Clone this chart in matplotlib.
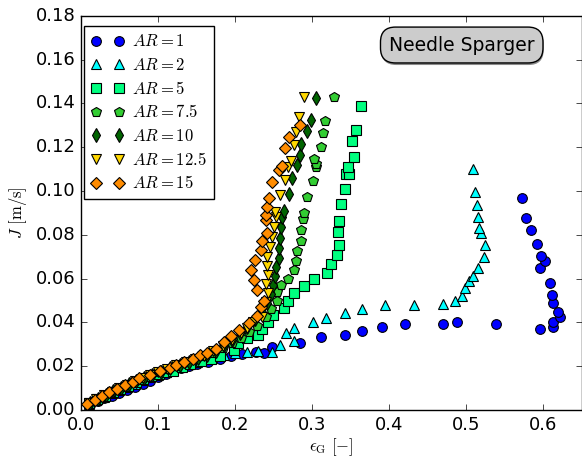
import matplotlib
matplotlib.use("Agg")
import matplotlib.pyplot as plt
from matplotlib.patheffects import withSimplePatchShadow

plt.style.use("classic")
plt.rcParams["figure.facecolor"] = "white"
plt.rcParams["savefig.facecolor"] = "white"

labels = ["$AR=1$", "$AR=2$", "$AR=5$", "$AR=7.5$", "$AR=10$", "$AR=12.5$", "$AR=15$"]
colors = ["blue", "cyan", "springgreen", "limegreen", "darkgreen", "gold", "darkorange"]
markers = ["o", "^", "s", "p", "d", "v", "D"]
msizes = [7, 7, 6.5, 7, 7, 7, 6.3]

eps_ar1 = [0.012, 0.022, 0.030, 0.040, 0.050, 0.060, 0.070, 0.080, 0.090, 0.100, 0.110, 0.120,
           0.130, 0.140, 0.150, 0.165, 0.180, 0.195, 0.209, 0.227, 0.237, 0.248, 0.284, 0.312,
           0.343, 0.365, 0.390, 0.421, 0.470, 0.488, 0.538, 0.595, 0.612, 0.613, 0.621, 0.619,
           0.612, 0.611, 0.608, 0.596, 0.602, 0.597, 0.592, 0.584, 0.577, 0.572]
J_ar1 = [0.0022, 0.0040, 0.0055, 0.0066, 0.0078, 0.0091, 0.0105, 0.0120, 0.0135, 0.0150, 0.0163, 0.0177,
         0.0190, 0.0200, 0.0210, 0.0220, 0.0233, 0.0245, 0.0256, 0.0265, 0.0260, 0.0290, 0.0305, 0.0333,
         0.0343, 0.0360, 0.0380, 0.0393, 0.0393, 0.0400, 0.0393, 0.0370, 0.0380, 0.0400, 0.0425, 0.0450,
         0.0490, 0.0526, 0.0580, 0.0649, 0.0680, 0.0704, 0.0758, 0.0822, 0.0877, 0.0968]

eps_ar2 = [0.010, 0.020, 0.030, 0.040, 0.050, 0.060, 0.070, 0.080, 0.090, 0.100, 0.110, 0.120,
           0.130, 0.140, 0.150, 0.160, 0.170, 0.185, 0.200, 0.215, 0.230, 0.248, 0.258, 0.277,
           0.266, 0.277, 0.301, 0.318, 0.342, 0.364, 0.394, 0.432, 0.470, 0.485, 0.494, 0.498,
           0.503, 0.508, 0.515, 0.523, 0.524, 0.519, 0.517, 0.515, 0.514, 0.511, 0.508]
J_ar2 = [0.0030, 0.0045, 0.0060, 0.0076, 0.0091, 0.0106, 0.0121, 0.0136, 0.0150, 0.0161, 0.0175, 0.0189,
         0.0200, 0.0210, 0.0220, 0.0231, 0.0241, 0.0251, 0.0260, 0.0265, 0.0270, 0.0265, 0.0297, 0.0316,
         0.0350, 0.0375, 0.0400, 0.0420, 0.0443, 0.0460, 0.0480, 0.0480, 0.0484, 0.0500, 0.0520, 0.0557,
         0.0590, 0.0610, 0.0650, 0.0700, 0.0755, 0.0810, 0.0833, 0.0880, 0.0936, 0.0996, 0.1100]

eps_ar5 = [0.011, 0.021, 0.031, 0.041, 0.051, 0.061, 0.071, 0.081, 0.091, 0.101, 0.110, 0.119,
           0.131, 0.142, 0.156, 0.169, 0.181, 0.199, 0.204, 0.215, 0.230, 0.235, 0.243, 0.249,
           0.263, 0.268, 0.277, 0.289, 0.302, 0.319, 0.324, 0.332, 0.335, 0.333, 0.335, 0.337,
           0.343, 0.344, 0.348, 0.347, 0.354, 0.352, 0.357, 0.363]
J_ar5 = [0.0033, 0.0050, 0.0066, 0.0082, 0.0097, 0.0112, 0.0127, 0.0142, 0.0155, 0.0166, 0.0172, 0.0180,
         0.0195, 0.0210, 0.0224, 0.0233, 0.0247, 0.0274, 0.0306, 0.0330, 0.0345, 0.0370, 0.0400, 0.0434,
         0.0466, 0.0500, 0.0534, 0.0566, 0.0600, 0.0626, 0.0667, 0.0708, 0.0755, 0.0813, 0.0863, 0.0940,
         0.1010, 0.1077, 0.1080, 0.1110, 0.1157, 0.1230, 0.1280, 0.1390]

eps_ar75 = [0.010, 0.020, 0.030, 0.040, 0.050, 0.060, 0.070, 0.080, 0.090, 0.100, 0.112, 0.124,
            0.136, 0.148, 0.160, 0.172, 0.184, 0.196, 0.208, 0.218, 0.228, 0.240, 0.246, 0.254,
            0.255, 0.259, 0.268, 0.276, 0.279, 0.280, 0.285, 0.286, 0.288, 0.289, 0.293, 0.301,
            0.305, 0.305, 0.303, 0.311, 0.314, 0.317, 0.328]
J_ar75 = [0.0033, 0.0050, 0.0067, 0.0084, 0.0100, 0.0116, 0.0131, 0.0146, 0.0159, 0.0172, 0.0188, 0.0203,
          0.0218, 0.0232, 0.0246, 0.0262, 0.0282, 0.0305, 0.0330, 0.0355, 0.0385, 0.0425, 0.0460, 0.0500,
          0.0540, 0.0570, 0.0600, 0.0640, 0.0680, 0.0726, 0.0772, 0.0820, 0.0873, 0.0900, 0.0973, 0.1046,
          0.1110, 0.1124, 0.1147, 0.1200, 0.1265, 0.1320, 0.1430]

eps_ar10 = [0.012, 0.022, 0.032, 0.042, 0.052, 0.062, 0.072, 0.082, 0.092, 0.104, 0.116, 0.128,
            0.140, 0.152, 0.163, 0.175, 0.186, 0.196, 0.206, 0.216, 0.226, 0.235, 0.241, 0.246,
            0.249, 0.252, 0.253, 0.257, 0.257, 0.258, 0.259, 0.261, 0.263, 0.270, 0.274, 0.280,
            0.284, 0.286, 0.293, 0.299, 0.305]
J_ar10 = [0.0031, 0.0050, 0.0068, 0.0085, 0.0101, 0.0117, 0.0132, 0.0148, 0.0161, 0.0176, 0.0191, 0.0206,
          0.0221, 0.0236, 0.0251, 0.0272, 0.0298, 0.0322, 0.0350, 0.0380, 0.0415, 0.0450, 0.0490, 0.0530,
          0.0570, 0.0610, 0.0653, 0.0694, 0.0740, 0.0786, 0.0836, 0.0880, 0.0910, 0.0987, 0.1060, 0.1120,
          0.1165, 0.1215, 0.1275, 0.1325, 0.1425]

eps_ar125 = [0.010, 0.020, 0.030, 0.040, 0.050, 0.060, 0.070, 0.080, 0.090, 0.100, 0.112, 0.124,
             0.136, 0.148, 0.160, 0.172, 0.184, 0.196, 0.208, 0.216, 0.223, 0.235, 0.240, 0.243,
             0.240, 0.243, 0.241, 0.241, 0.245, 0.248, 0.250, 0.253, 0.252, 0.258, 0.265, 0.268,
             0.272, 0.276, 0.279, 0.283, 0.290]
J_ar125 = [0.0032, 0.0050, 0.0067, 0.0084, 0.0100, 0.0116, 0.0131, 0.0147, 0.0160, 0.0174, 0.0189, 0.0204,
           0.0219, 0.0233, 0.0249, 0.0268, 0.0293, 0.0320, 0.0350, 0.0375, 0.0400, 0.0425, 0.0493, 0.0534,
           0.0576, 0.0617, 0.0658, 0.0700, 0.0745, 0.0790, 0.0836, 0.0880, 0.0904, 0.0980, 0.1050, 0.1110,
           0.1138, 0.1210, 0.1270, 0.1340, 0.1430]

eps_ar15 = [0.008, 0.018, 0.028, 0.037, 0.047, 0.057, 0.067, 0.075, 0.089, 0.102, 0.115, 0.124,
            0.134, 0.146, 0.154, 0.164, 0.175, 0.185, 0.195, 0.205, 0.218, 0.228, 0.234, 0.237,
            0.229, 0.224, 0.221, 0.226, 0.233, 0.235, 0.241, 0.240, 0.240, 0.241, 0.244, 0.248,
            0.257, 0.261, 0.265, 0.270, 0.284]
J_ar15 = [0.0027, 0.0046, 0.0064, 0.0082, 0.0096, 0.0114, 0.0128, 0.0146, 0.0160, 0.0178, 0.0192, 0.0206,
          0.0220, 0.0233, 0.0250, 0.0260, 0.0280, 0.0310, 0.0338, 0.0365, 0.0397, 0.0430, 0.0470, 0.0500,
          0.0550, 0.0594, 0.0640, 0.0685, 0.0731, 0.0770, 0.0810, 0.0870, 0.0890, 0.0927, 0.0970, 0.1040,
          0.1096, 0.1115, 0.1197, 0.1247, 0.1300]

series_eps = [eps_ar1, eps_ar2, eps_ar5, eps_ar75, eps_ar10, eps_ar125, eps_ar15]
series_J = [J_ar1, J_ar2, J_ar5, J_ar75, J_ar10, J_ar125, J_ar15]

fig = plt.figure(figsize=(5.82, 4.66), dpi=100)
ax = fig.add_axes([0.139, 0.12, 0.861, 0.846])

for x, y, lab, c, m, ms in zip(series_eps, series_J, labels, colors, markers, msizes):
    ax.plot(x, y, linestyle="none", marker=m, color=c, markeredgecolor="black",
            markeredgewidth=0.8, markersize=ms, label=lab)

ax.set_xlim(0.0, 0.65)
ax.set_ylim(0.0, 0.18)
ax.set_xticks([0.0, 0.1, 0.2, 0.3, 0.4, 0.5, 0.6])
ax.set_yticks([0.00, 0.02, 0.04, 0.06, 0.08, 0.10, 0.12, 0.14, 0.16, 0.18])
ax.set_xticklabels(["0.0", "0.1", "0.2", "0.3", "0.4", "0.5", "0.6"])
ax.set_yticklabels(["0.00", "0.02", "0.04", "0.06", "0.08", "0.10", "0.12", "0.14", "0.16", "0.18"])
ax.tick_params(labelsize=13)
ax.set_xlabel(r"$\epsilon_\mathrm{G}$ $[-]$", fontsize=12, labelpad=2)
ax.set_ylabel(r"$J$ $[\mathrm{m/s}]$", fontsize=12)

ax.legend(loc="upper left", bbox_to_anchor=(0.006, 0.975), borderaxespad=0.0,
          numpoints=2, fontsize=12, fancybox=False,
          labelspacing=0.34, borderpad=0.4, handletextpad=0.5)

t = ax.text(0.76, 0.926, "Needle Sparger", transform=ax.transAxes, ha="center", va="center",
            fontsize=13.5,
            bbox=dict(boxstyle="round,pad=0.45,rounding_size=0.8", facecolor="#cccccc",
                      edgecolor="black", linewidth=1))
t.get_bbox_patch().set_path_effects([withSimplePatchShadow(offset=(0.5, -1.5), alpha=0.6)])

fig.savefig("out.png", dpi=100)
